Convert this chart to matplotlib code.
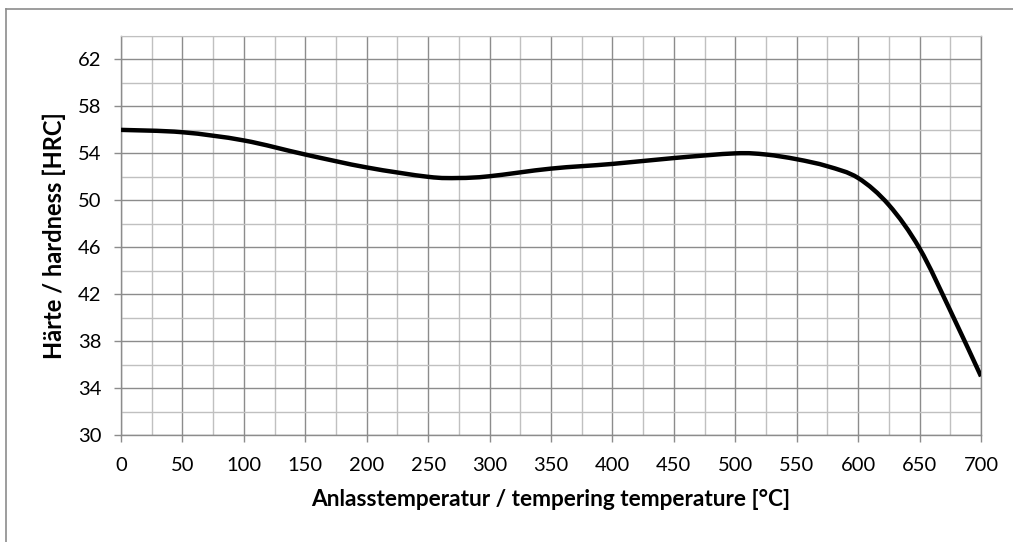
import numpy as np
import matplotlib
matplotlib.use("Agg")
import matplotlib.pyplot as plt
from matplotlib.path import Path
from matplotlib.patches import PathPatch
from matplotlib.lines import Line2D
import matplotlib.ticker as ticker

# values
temperature = [0, 50, 100, 150, 200, 250, 275, 300, 350, 400, 450, 500,
               525, 550, 575, 600, 625, 650, 675, 700]
hardness = [56.0, 55.8, 55.1, 53.9, 52.8, 52.0, 51.9, 52.05, 52.7, 53.1,
            53.6, 54.0, 53.9, 53.5, 52.9, 51.9, 49.6, 45.9, 40.6, 35.0]

x_ticks = list(range(0, 701, 50))
y_ticks = list(range(30, 63, 4))

plt.rcParams['font.family'] = ['Lato', 'DejaVu Sans']

fig = plt.figure(figsize=(10.13, 5.42), dpi=100)
ax = fig.add_axes([121 / 1013, 1 - 435 / 542, 860 / 1013, 399 / 542])

ax.set_xlim(0, 700)
ax.set_ylim(30, 64)

# grid: major dark, minor light
ax.xaxis.set_major_locator(ticker.FixedLocator(x_ticks))
ax.xaxis.set_minor_locator(ticker.MultipleLocator(25))
ax.yaxis.set_major_locator(ticker.FixedLocator(y_ticks))
ax.yaxis.set_minor_locator(ticker.MultipleLocator(2))
ax.grid(which='minor', color='#c0c0c0', linewidth=1.0)
ax.grid(which='major', color='#8c8c8c', linewidth=1.0)
ax.set_axisbelow(True)

for side in ['left', 'bottom', 'right']:
    ax.spines[side].set_color('#8c8c8c')
    ax.spines[side].set_linewidth(1.0)
ax.spines['top'].set_color('#c0c0c0')

ax.tick_params(which='major', length=5, width=1, color='#8c8c8c',
               labelsize=14.5, labelcolor='black')
ax.tick_params(which='minor', length=0)
ax.tick_params(axis='y', pad=9)
ax.tick_params(axis='x', pad=11)

# smooth line (Excel-like bezier through the points)
pts = np.column_stack([temperature, hardness])
verts = [pts[0]]
codes = [Path.MOVETO]
n = len(pts)
for i in range(n - 1):
    p0 = pts[i - 1] if i > 0 else pts[i]
    p1 = pts[i]
    p2 = pts[i + 1]
    p3 = pts[i + 2] if i + 2 < n else pts[i + 1]
    c1 = p1 + (p2 - p0) / 6.0
    c2 = p2 - (p3 - p1) / 6.0
    verts += [c1, c2, p2]
    codes += [Path.CURVE4] * 3
curve = PathPatch(Path(verts, codes), facecolor='none', edgecolor='black',
                  linewidth=3.2, capstyle='butt', joinstyle='round', zorder=3)
ax.add_patch(curve)

ax.set_xlabel('Anlasstemperatur / tempering temperature [°C]',
              fontsize=16.3, fontweight='bold', labelpad=11)
ax.set_ylabel('Härte / hardness [HRC]', fontsize=17, fontweight='bold',
              labelpad=9)

# outer chart frame (only top and left edges lie inside the picture)
fig.add_artist(Line2D([6 / 1013, 6 / 1013], [0, 1 - 9 / 542],
                      color='#8c8c8c', linewidth=1.2))
fig.add_artist(Line2D([6 / 1013, 1], [1 - 9 / 542, 1 - 9 / 542],
                      color='#8c8c8c', linewidth=1.2))

fig.savefig('out.png', dpi=100)
